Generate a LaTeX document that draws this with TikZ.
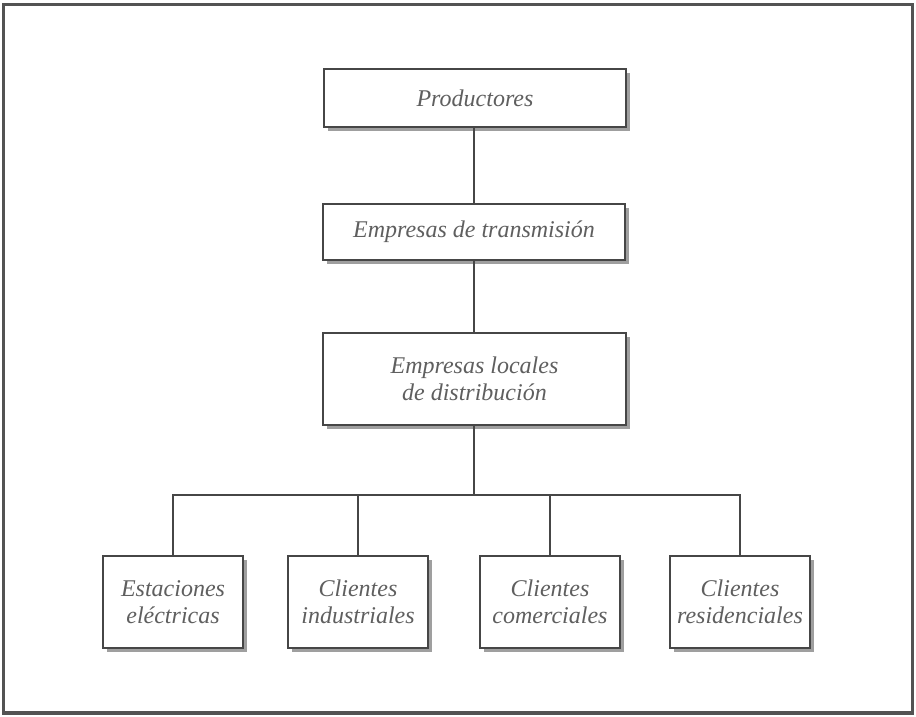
\documentclass[tikz,border=0pt]{standalone}
\usepackage{fontspec}
\setmainfont{Liberation Serif}
\usetikzlibrary{shadows}
\definecolor{boxline}{RGB}{70,70,70}
\definecolor{txtgray}{RGB}{95,95,95}
\tikzset{
  caja/.style={draw=boxline,line width=1.4pt,fill=white,align=center,
    text=txtgray,font=\fontsize{24}{27}\selectfont\itshape,inner sep=0pt,
    drop shadow={shadow xshift=4pt,shadow yshift=-4pt,fill=gray!75,opacity=1}},
  conector/.style={draw=boxline,line width=1.3pt}
}
\begin{document}
\begin{tikzpicture}[x=1pt,y=-1pt]
\useasboundingbox (0,0) rectangle (916,717);
\draw[line width=3.5pt,gray!65!black] (3.5,4.5) rectangle (912.5,713);

% niveles superiores
\node[caja,minimum width=302pt,minimum height=58pt] (prod) at (475,98) {Productores};
\node[caja,minimum width=302pt,minimum height=56pt] (trans) at (474,232) {Empresas de transmisión};
\node[caja,minimum width=303pt,minimum height=92pt] (dist) at (474.5,379) {Empresas locales\\de distribución};

% clientes
\node[caja,minimum width=140pt,minimum height=92pt] (estac) at (173,602) {Estaciones\\eléctricas};
\node[caja,minimum width=140pt,minimum height=92pt] (ind) at (358,602) {Clientes\\industriales};
\node[caja,minimum width=140pt,minimum height=92pt] (com) at (550,602) {Clientes\\comerciales};
\node[caja,minimum width=140pt,minimum height=92pt] (res) at (740,602) {Clientes\\residenciales};

\coordinate (bus) at (474,495);
\draw[conector] (prod.south -| bus) -- (trans.north -| bus);
\draw[conector] (trans.south -| bus) -- (dist.north -| bus);
\draw[conector] (dist.south -| bus) -- (bus);
\draw[conector] (bus) -| (estac.north);
\draw[conector] (bus) -| (ind.north);
\draw[conector] (bus) -| (com.north);
\draw[conector] (bus) -| (res.north);
\end{tikzpicture}
\end{document}
